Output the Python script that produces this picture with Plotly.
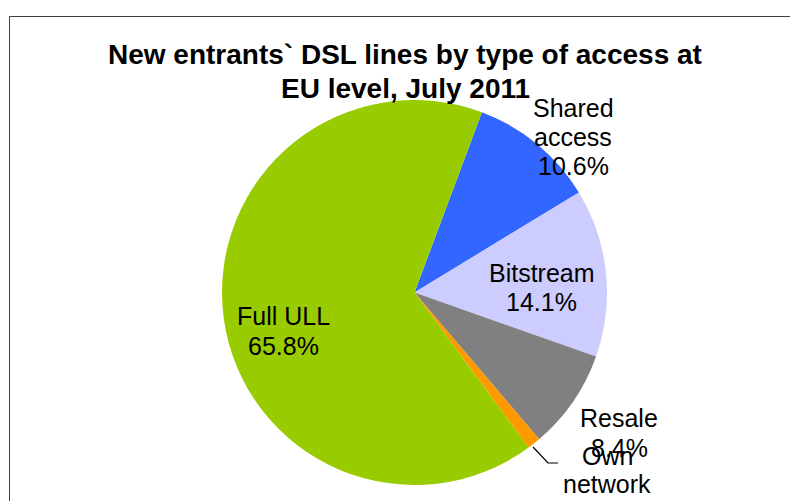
import plotly.graph_objects as go

W, H = 790, 501

# ---- data ----
categories = ["Shared access", "Bitstream", "Resale", "Own network", "Full ULL"]
shares = [10.6, 14.1, 8.4, 1.1, 65.8]
colors = ["#3366FF", "#CCCCFF", "#808080", "#FF9900", "#99CC00"]
title_lines = ["New entrants` DSL lines by type of access at", "EU level, July 2011"]

# label text per slice (lines), percentages come from shares
label_lines = {
    "Shared access": ["Shared", "access", "{p}"],
    "Bitstream": ["Bitstream", "{p}"],
    "Resale": ["Resale", "{p}"],
    "Own network": ["Own", "network"],
    "Full ULL": ["Full ULL", "{p}"],
}
# label layout: (center x px, first baseline px, line spacing px)
label_pos = {
    "Shared access": (573, 117, 29),
    "Bitstream": (541.5, 282, 29),
    "Resale": (619, 427, 30),
    "Own network": (607, 465, 28),
    "Full ULL": (283, 325, 30),
}

FONT = "Liberation Sans, Arial, sans-serif"

fig = go.Figure(go.Pie(
    labels=categories,
    values=shares,
    sort=False,
    direction="clockwise",
    rotation=20.5,
    marker=dict(colors=colors, line=dict(width=0)),
    textinfo="none",
    hoverinfo="label+percent",
    showlegend=False,
    domain=dict(x=[222 / W, 607 / W], y=[1 - 485 / H, 1 - 100 / H]),
))

def px_to_paper(x, y):
    return x / W, 1 - y / H

annotations = []
# title lines
tsize = 28
for i, line in enumerate(title_lines):
    base = 64 + i * 34
    x, y = px_to_paper(405.5, base - 0.35 * tsize)
    annotations.append(dict(x=x, y=y, xref="paper", yref="paper", text="<b>%s</b>" % line,
                            showarrow=False, xanchor="center", yanchor="middle",
                            font=dict(family=FONT, size=tsize, color="black")))

lsize = 25
for cat, val in zip(categories, shares):
    cx, b0, sp = label_pos[cat]
    for j, ln in enumerate(label_lines[cat]):
        txt = ln.replace("{p}", "%.1f%%" % val)
        x, y = px_to_paper(cx, b0 + j * sp - 0.35 * lsize)
        annotations.append(dict(x=x, y=y, xref="paper", yref="paper", text=txt,
                                showarrow=False, xanchor="center", yanchor="middle",
                                font=dict(family=FONT, size=lsize, color="black")))

# leader line for Own network
p1 = px_to_paper(533, 447)
p2 = px_to_paper(548, 463)
p3 = px_to_paper(558, 463)
shapes = [
    dict(type="path", xref="paper", yref="paper",
         path="M %f %f L %f %f L %f %f" % (p1[0], p1[1], p2[0], p2[1], p3[0], p3[1]),
         line=dict(color="black", width=1.2)),
    dict(type="rect", xref="paper", yref="paper",
         x0=9.5 / W, y0=-0.05, x1=1.05, y1=1 - 16.5 / H,
         line=dict(color="#404040", width=1), fillcolor="rgba(0,0,0,0)"),
]

fig.update_layout(
    width=W, height=H,
    margin=dict(l=0, r=0, t=0, b=0),
    paper_bgcolor="white",
    plot_bgcolor="white",
    annotations=annotations,
    shapes=shapes,
)

fig.write_html("out.html")
